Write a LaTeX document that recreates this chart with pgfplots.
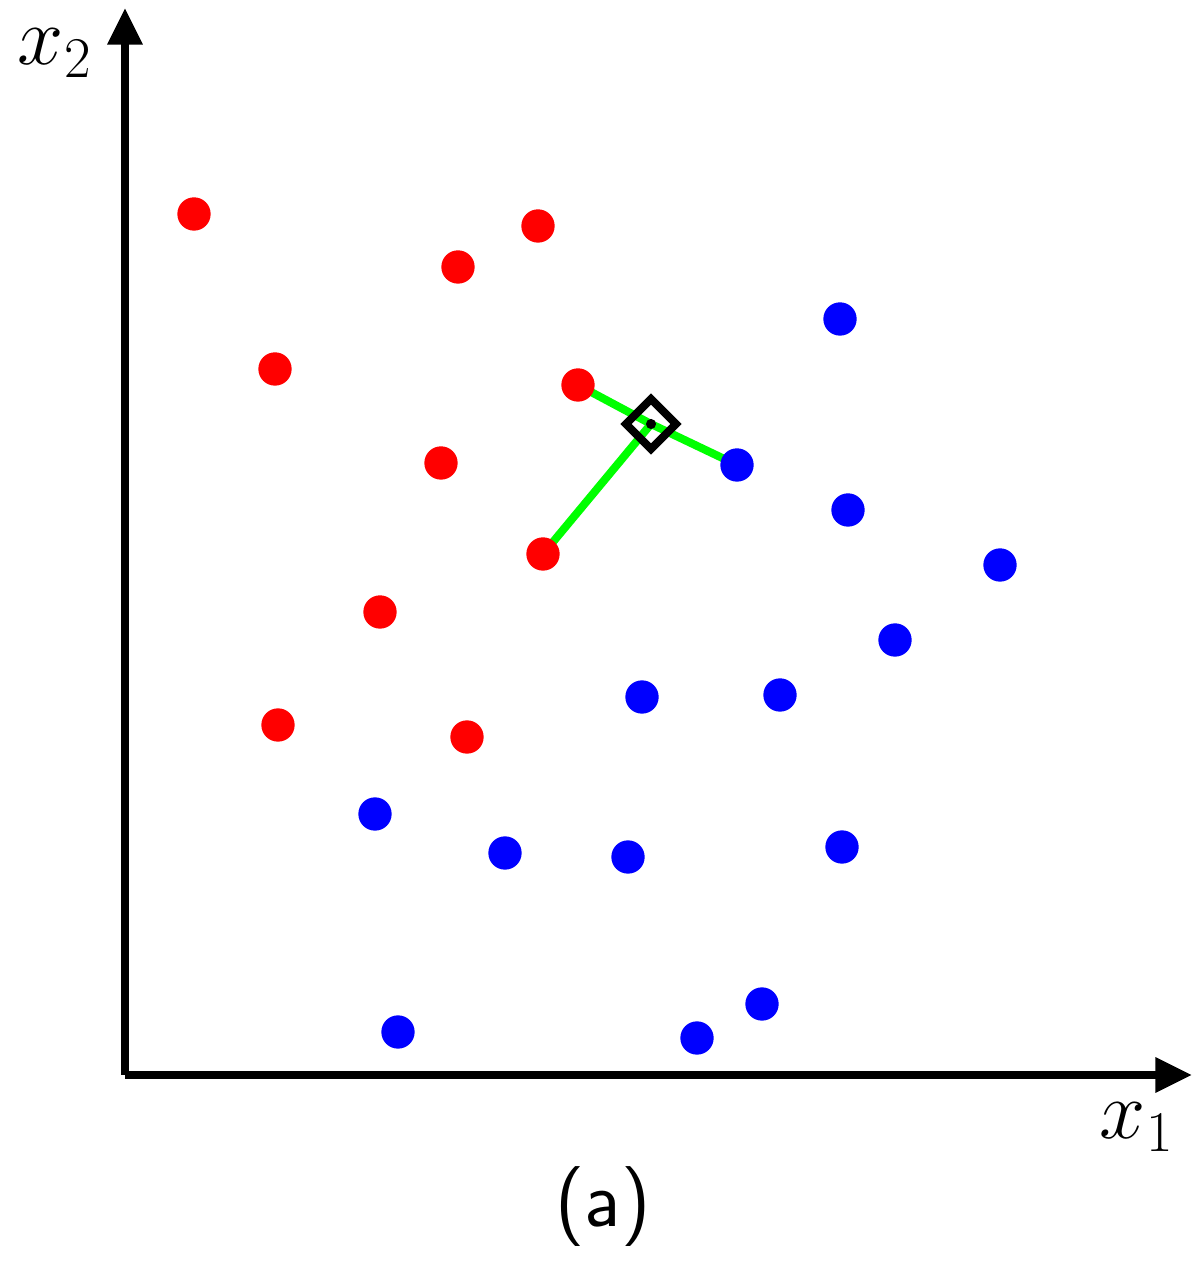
\documentclass[border=0pt]{standalone}
\usepackage{pgfplots}
\pgfplotsset{compat=1.18}
\usetikzlibrary{arrows.meta}
\definecolor{pr}{RGB}{255,0,0}
\definecolor{pb}{RGB}{0,0,255}
\definecolor{pg}{RGB}{0,255,0}
\begin{document}
\begin{tikzpicture}
\useasboundingbox (-37.5pt,-57.6pt) rectangle (322.5pt,322.5pt);
\begin{axis}[
  x=0.3pt, y=0.3pt,
  at={(0,0)}, anchor=origin,
  xmin=0, xmax=1067, ymin=0, ymax=1067,
  axis lines=left,
  axis line style={line width=2.5pt, -{Triangle[length=11pt,width=10pt]}},
  xtick=\empty, ytick=\empty,
  clip=false,
]
% green neighbour lines
\addplot[pg, line width=2.4pt] coordinates {(526,651) (453,690)};
\addplot[pg, line width=2.4pt] coordinates {(526,651) (612,610)};
\addplot[pg, line width=2.4pt] coordinates {(526,651) (418,521)};
% red
\addplot[only marks, mark=*, mark size=4.8pt, mark options={draw=pr, fill=pr}] coordinates {
(69,861) (413,849) (333,808) (150,706) (453,690) (316,612) (418,521) (255,463) (153,350) (342,338)};
% blue
\addplot[only marks, mark=*, mark size=4.8pt, mark options={draw=pb, fill=pb}] coordinates {
(715,756) (612,610) (723,565) (875,510) (770,435) (517,378) (655,380) (250,261) (380,222) (503,218) (717,228) (637,71) (273,43) (572,37)};
% query
\addplot[only marks, mark=square, mark size=5.3pt, mark options={draw=black, line width=2.4pt, rotate=45}] coordinates {(526,651)};
\addplot[only marks, mark=*, mark size=1.3pt, mark options={draw=black, fill=black}] coordinates {(526,651)};
\node at (axis cs:1012,-52) {\fontsize{25}{30}\selectfont $x_1$};
\node at (axis cs:-70,1022) {\fontsize{25}{30}\selectfont $x_2$};
\node at (axis cs:478,-132) {\fontsize{24}{29}\selectfont\sffamily (a)};
\end{axis}
\end{tikzpicture}
\end{document}
